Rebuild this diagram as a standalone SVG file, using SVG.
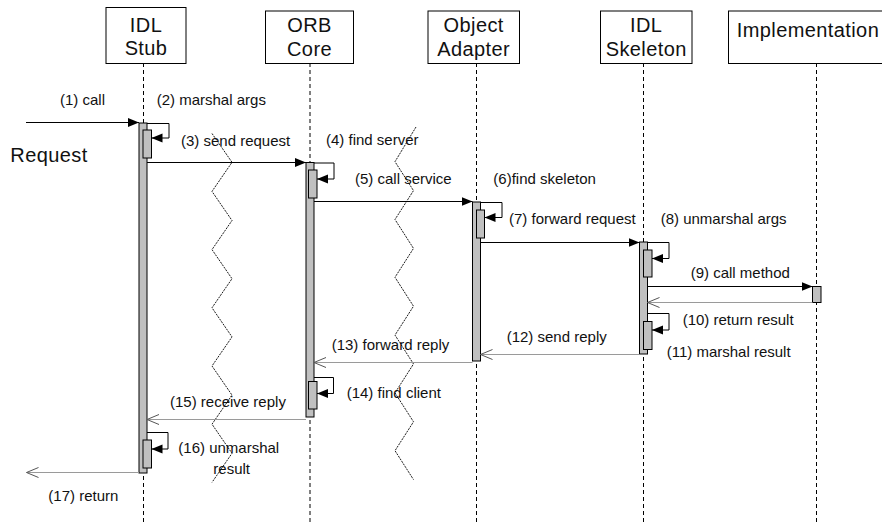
<svg xmlns="http://www.w3.org/2000/svg" width="882" height="524" viewBox="0 0 882 524">
<style>
  .box { fill: #ffffff; stroke: #000000; stroke-width: 1; }
  .head { font-family: "Liberation Sans", Arial, sans-serif; font-size: 20px; letter-spacing: 0.4px; fill: #111111; text-anchor: middle; }
  .lbl { font-family: "Liberation Sans", Arial, sans-serif; font-size: 15px; fill: #111111; }
  .life { stroke: #000000; stroke-width: 1; stroke-dasharray: 4 3; fill: none; }
  .bar { fill: #c0c0c0; stroke: #000000; stroke-width: 1; }
  .msg { stroke: #000000; stroke-width: 1; fill: none; marker-end: url(#filled); }
  .ret { stroke: #9a9a9a; stroke-width: 1; fill: none; marker-end: url(#open); }
  .zig { stroke: #000000; stroke-width: 0.9; stroke-dasharray: 2 1; fill: none; }
</style>
<defs>
  <marker id="filled" markerUnits="userSpaceOnUse" markerWidth="12" markerHeight="10" refX="11" refY="4.5" orient="auto">
    <path d="M0,0 L11,4.5 L0,9 Z" fill="#000000"/>
  </marker>
  <marker id="open" markerUnits="userSpaceOnUse" markerWidth="14" markerHeight="12" refX="12.5" refY="5.5" orient="auto">
    <path d="M0.5,0.5 L12.5,5.5 L0.5,10.5" fill="none" stroke="#555555" stroke-width="1"/>
  </marker>
</defs>
<rect width="882" height="524" fill="#ffffff"/>

<g id="lifelines">
  <line class="life" x1="143.5" y1="63" x2="143.5" y2="524"/>
  <line class="life" x1="310" y1="63" x2="310" y2="524"/>
  <line class="life" x1="476.5" y1="63" x2="476.5" y2="524"/>
  <line class="life" x1="643.5" y1="63" x2="643.5" y2="524"/>
  <line class="life" x1="816.5" y1="63" x2="816.5" y2="524"/>
</g>

<g id="stub">
  <rect class="box" x="106" y="7.5" width="80" height="56"/>
  <text class="head" x="146" y="31.5">IDL</text>
  <text class="head" x="146" y="55">Stub</text>
</g>
<g id="orb">
  <rect class="box" x="265.5" y="11" width="88" height="52.5"/>
  <text class="head" x="309.5" y="32">ORB</text>
  <text class="head" x="309.5" y="55.5">Core</text>
</g>
<g id="adapter">
  <rect class="box" x="428" y="11" width="91.5" height="52.5"/>
  <text class="head" x="473.7" y="32">Object</text>
  <text class="head" x="473.7" y="55.5">Adapter</text>
</g>
<g id="skeleton">
  <rect class="box" x="600.5" y="11" width="91.5" height="52.5"/>
  <text class="head" x="646.2" y="32">IDL</text>
  <text class="head" x="646.2" y="56">Skeleton</text>
</g>
<g id="implementation">
  <rect class="box" x="728.5" y="11" width="160" height="52.5"/>
  <text class="head" x="808" y="37">Implementation</text>
</g>

<g id="activations">
  <rect class="bar" x="139" y="123" width="8" height="350"/>
  <rect class="bar" x="143" y="130" width="8.5" height="28"/>
  <rect class="bar" x="143" y="440" width="8.5" height="28"/>
  <rect class="bar" x="306" y="162.5" width="8" height="254.5"/>
  <rect class="bar" x="308.5" y="170" width="8.5" height="28"/>
  <rect class="bar" x="308.5" y="381.5" width="8.5" height="27.5"/>
  <rect class="bar" x="472.5" y="202" width="8" height="159"/>
  <rect class="bar" x="476.5" y="210" width="8" height="28"/>
  <rect class="bar" x="639.5" y="242" width="8" height="112"/>
  <rect class="bar" x="643.5" y="250" width="8.5" height="27"/>
  <rect class="bar" x="643.5" y="321.5" width="8.5" height="28"/>
  <rect class="bar" x="812.5" y="286.5" width="8.5" height="16"/>
</g>

<g id="breaks">
  <polyline class="zig" points="212,133.5 232,162.3 212,191.4 232,220.5 212,249.6 232,278.7 212,307.8 232,336.9 212,366 232,395.1 212,424.2 232,453.3 212,482.4"/>
  <polyline class="zig" points="416,127 395,161.7 413.5,190.6 395,219.5 413.5,248.4 395,277.3 413.5,306.2 395,335.1 413.5,364 395,392.9 413.5,421.8 395,450.7 413.5,479.6"/>
</g>

<g id="connectors">
  <line class="msg" x1="26" y1="122.5" x2="139" y2="122.5"/>
  <polyline class="msg" points="147,123.5 169,123.5 169,138 151.5,138"/>
  <line class="msg" x1="147" y1="162.5" x2="306" y2="162.5"/>
  <polyline class="msg" points="314,163 334,163 334,179 317,179"/>
  <line class="msg" x1="314" y1="201.5" x2="472.5" y2="201.5"/>
  <polyline class="msg" points="480.5,202.5 502,202.5 502,217.5 484.5,217.5"/>
  <line class="msg" x1="480.5" y1="242.5" x2="639.5" y2="242.5"/>
  <polyline class="msg" points="647.5,242.5 669,242.5 669,258.5 652,258.5"/>
  <line class="msg" x1="647.5" y1="286.5" x2="812.5" y2="286.5"/>
  <line class="ret" x1="812.5" y1="302.5" x2="647.5" y2="302.5"/>
  <polyline class="msg" points="647.5,313.5 669,313.5 669,330 652,330"/>
  <line class="ret" x1="639.5" y1="354.5" x2="480.5" y2="354.5"/>
  <line class="ret" x1="472.5" y1="362.5" x2="314" y2="362.5"/>
  <polyline class="msg" points="314,377.5 333.5,377.5 333.5,393.5 317,393.5"/>
  <line class="ret" x1="306" y1="419.5" x2="147" y2="419.5"/>
  <polyline class="msg" points="147,432.5 168,432.5 168,449 151.5,449"/>
  <line class="ret" x1="139" y1="472.5" x2="26.5" y2="472.5"/>
</g>

<g id="labels">
  <text class="lbl" x="60" y="105">(1) call</text>
  <text class="lbl" x="156.7" y="105">(2) marshal args</text>
  <text class="head" x="49" y="161.7" style="text-anchor:middle">Request</text>
  <text class="lbl" x="181" y="145.7">(3) send request</text>
  <text class="lbl" x="326" y="145">(4) find server</text>
  <text class="lbl" x="355" y="184">(5) call service</text>
  <text class="lbl" x="493.3" y="184">(6)find skeleton</text>
  <text class="lbl" x="509" y="224">(7) forward request</text>
  <text class="lbl" x="660.7" y="224">(8) unmarshal args</text>
  <text class="lbl" x="690.7" y="278.3">(9) call method</text>
  <text class="lbl" x="682.7" y="325">(10) return result</text>
  <text class="lbl" x="666.7" y="356.7">(11) marshal result</text>
  <text class="lbl" x="506.7" y="341.7">(12) send reply</text>
  <text class="lbl" x="331.7" y="350">(13) forward reply</text>
  <text class="lbl" x="346.7" y="397.7">(14) find client</text>
  <text class="lbl" x="170" y="406.7">(15) receive reply</text>
  <text class="lbl" x="178.3" y="453.3">(16) unmarshal</text>
  <text class="lbl" x="213.3" y="474.3">result</text>
  <text class="lbl" x="48.3" y="500.7">(17) return</text>
</g>
</svg>
